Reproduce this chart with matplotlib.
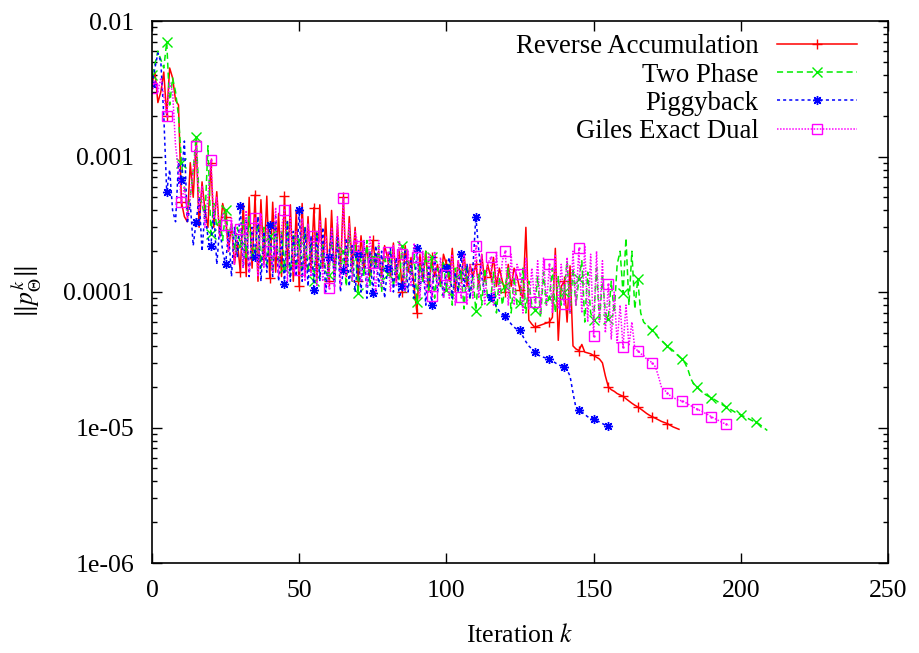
import numpy as np
import matplotlib
matplotlib.use("Agg")
import matplotlib.pyplot as plt
from matplotlib.ticker import LogLocator, FixedLocator, NullFormatter

# adjoint residual norms per iteration, in units of 1e-4
reverse_acc = [
    35, 42, 25, 30, 42, 20, 45, 38, 26, 24,
    4.6, 3.6, 3.3, 9, 5, 13, 3, 6.5, 4, 3,
    9, 3, 5.5, 2.6, 4.5, 3.6, 2.0, 3.2, 1.6, 2.4,
    1.4, 4.5, 1.3, 5.0, 1.5, 5.2, 1.2, 4.8, 1.6, 5.1,
    1.27, 4.6, 1.4, 3.8, 1.3, 5.1, 1.5, 4.4, 1.2, 4.0,
    1.1, 4.5, 1.3, 3.6, 1.4, 4.2, 1.2, 4.4, 1.5, 3.5,
    1.2, 4.0, 1.3, 3.2, 1.4, 5.0, 1.3, 3.6, 1.5, 3.0,
    1.2, 2.6, 1.5, 2.2, 1.3, 2.4, 1.6, 2.0, 1.3, 2.2,
    1.8, 1.3, 2.3, 1.2, 2.0, 1.0, 2.2, 1.4, 1.8, 1.1,
    0.7, 1.9, 1.2, 2.0, 1.0, 1.8, 1.3, 1.6, 1.1, 1.9,
    1.6, 1.2, 2.1, 1.0, 1.7, 1.26, 1.9, 1.1, 1.6, 1.3,
    1.6, 1.1, 1.9, 1.2, 1.6, 1.3, 1.8, 1.1, 1.5, 1.2,
    1.0, 1.6, 1.1, 1.5, 1.3, 1.03, 0.9, 3.0, 0.62, 0.58,
    0.55, 0.56, 0.57, 0.58, 0.59, 0.6, 0.65, 2.1, 0.44, 1.1,
    1.2, 0.6, 1.56, 0.40, 0.38, 0.37, 0.41, 0.36, 0.355, 0.35,
    0.34, 0.33, 0.32, 0.30, 0.24, 0.20, 0.19, 0.185, 0.178, 0.174,
    0.17, 0.163, 0.157, 0.151, 0.146, 0.142, 0.137, 0.132, 0.127, 0.123,
    0.12, 0.117, 0.114, 0.111, 0.109, 0.107, 0.104, 0.101, 0.099, 0.097,
]

two_phase = [
    40, 48, 60, 52, 45, 70, 24, 38, 30, 20,
    9, 6, 4, 5, 8, 14, 5, 4.5, 3.5, 12,
    2.7, 4.5, 3, 3.5, 2.4, 4.0, 2.6, 3.2, 2.0, 3.0,
    2.2, 3.4, 1.8, 3.6, 1.7, 2.0, 3.5, 1.5, 3.0, 1.6,
    2.6, 1.4, 3.2, 1.6, 2.8, 1.5, 3.4, 1.3, 2.6, 1.5,
    2.4, 1.3, 3.0, 1.4, 2.5, 1.2, 2.8, 1.3, 2.2, 1.4,
    1.34, 2.6, 1.2, 2.4, 1.4, 2.0, 1.1, 2.8, 1.2, 2.2,
    0.98, 2.0, 1.3, 2.4, 1.1, 1.8, 1.5, 2.2, 1.0, 1.9,
    1.35, 2.0, 1.1, 1.6, 1.2, 2.2, 1.0, 1.7, 1.3, 1.9,
    0.84, 1.6, 1.2, 2.0, 1.0, 1.8, 0.9, 1.5, 1.1, 1.7,
    1.03, 1.6, 0.8, 1.5, 1.0, 1.4, 0.75, 1.6, 0.9, 1.3,
    0.73, 1.4, 0.8, 1.5, 0.9, 0.87, 1.4, 0.7, 1.3, 0.8,
    1.1, 1.5, 0.7, 1.3, 0.8, 0.83, 1.5, 0.7, 1.2, 0.8,
    0.74, 1.3, 0.65, 1.4, 0.8, 0.91, 1.5, 0.7, 1.3, 0.8,
    1.0, 1.7, 0.7, 1.5, 0.8, 1.25, 1.7, 0.6, 1.4, 0.7,
    0.62, 1.5, 0.6, 1.3, 0.7, 0.63, 1.2, 0.7, 1.6, 2.0,
    0.98, 2.5, 0.8, 2.0, 0.75, 1.25, 0.7, 0.6, 0.57, 0.54,
    0.52, 0.49, 0.46, 0.44, 0.42, 0.40, 0.385, 0.37, 0.35, 0.335,
    0.32, 0.30, 0.27, 0.23, 0.21, 0.20, 0.19, 0.182, 0.175, 0.17,
    0.166, 0.161, 0.156, 0.151, 0.146, 0.142, 0.138, 0.134, 0.13, 0.127,
    0.124, 0.121, 0.118, 0.115, 0.112, 0.11, 0.107, 0.103, 0.099, 0.095,
]

piggyback = [
    34, 45, 58, 50, 20, 5.5, 8, 4, 3.3, 9,
    6.7, 13, 3.2, 4.5, 2.2, 3.3, 5, 2.0, 4, 2.5,
    2.2, 4, 1.6, 3, 2.0, 1.6, 2.8, 1.3, 3.0, 1.8,
    4.3, 1.5, 3.5, 1.3, 3.0, 1.8, 3.6, 1.2, 2.8, 1.4,
    3.1, 1.3, 3.6, 1.2, 2.6, 1.15, 3.3, 1.2, 2.8, 1.3,
    4.0, 1.2, 3.0, 1.1, 2.6, 1.03, 2.7, 1.2, 3.0, 1.0,
    1.8, 2.8, 1.1, 2.6, 1.0, 1.45, 2.5, 1.1, 2.2, 1.0,
    1.9, 1.0, 2.4, 0.9, 2.0, 0.98, 2.2, 1.1, 2.0, 0.9,
    1.5, 2.1, 1.0, 1.8, 0.9, 1.1, 2.0, 1.0, 1.7, 0.9,
    2.1, 1.0, 1.7, 0.8, 1.6, 0.8, 1.9, 1.0, 1.5, 0.9,
    1.5, 1.8, 0.9, 1.4, 1.0, 1.9, 1.1, 1.6, 0.9, 1.5,
    3.6, 2.0, 1.3, 1.0, 0.95, 0.92, 0.85, 0.78, 0.72, 0.68,
    0.66, 0.62, 0.58, 0.55, 0.53, 0.52, 0.47, 0.43, 0.40, 0.38,
    0.36, 0.345, 0.335, 0.33, 0.325, 0.32, 0.31, 0.30, 0.29, 0.285,
    0.28, 0.265, 0.24, 0.18, 0.14, 0.135, 0.13, 0.125, 0.12, 0.117,
    0.115, 0.112, 0.11, 0.107, 0.104, 0.102, 0.10,
]

giles = [
    32, 36, 30, 38, 28, 20, 35, 30, 12, 8,
    4.6, 6, 3.5, 5, 8, 12, 4, 6, 3, 5,
    9.4, 3.5, 5, 2.5, 3.8, 3.1, 2.0, 3.5, 1.6, 2.6,
    2.9, 1.5, 4.0, 1.4, 2.6, 3.5, 1.3, 3.8, 1.5, 3.0,
    2.0, 1.4, 4.2, 1.3, 3.0, 4.0, 1.2, 3.6, 1.4, 2.8,
    1.45, 3.5, 1.2, 3.2, 1.3, 2.6, 1.1, 3.4, 1.2, 2.6,
    1.07, 3.0, 1.2, 3.6, 1.1, 4.9, 1.3, 3.2, 1.2, 2.8,
    2.2, 1.2, 2.4, 1.1, 2.6, 1.65, 1.0, 2.4, 1.1, 2.0,
    1.98, 1.0, 2.2, 1.1, 2.4, 1.9, 1.0, 2.0, 1.1, 2.3,
    1.8, 0.9, 2.0, 1.0, 1.9, 0.93, 2.0, 1.0, 1.8, 0.9,
    1.34, 0.9, 1.9, 0.8, 1.7, 0.92, 1.9, 0.8, 1.6, 0.9,
    2.2, 0.9, 1.9, 0.8, 1.6, 1.8, 0.8, 2.0, 0.9, 1.7,
    2.0, 0.8, 1.9, 0.8, 1.6, 1.36, 0.7, 1.8, 0.75, 1.5,
    0.85, 1.7, 0.7, 1.8, 0.8, 1.6, 0.7, 1.9, 0.75, 1.6,
    0.81, 1.8, 0.7, 2.0, 0.8, 2.1, 0.7, 2.2, 0.6, 1.9,
    0.47, 2.0, 0.6, 1.7, 0.5, 1.15, 0.45, 1.0, 0.42, 0.8,
    0.39, 0.8, 0.4, 0.6, 0.38, 0.37, 0.35, 0.34, 0.32, 0.31,
    0.30, 0.28, 0.24, 0.2, 0.19, 0.18, 0.172, 0.167, 0.162, 0.158,
    0.158, 0.154, 0.149, 0.145, 0.141, 0.137, 0.134, 0.131, 0.127, 0.124,
    0.12, 0.117, 0.114, 0.111, 0.108, 0.106, 0.104,
]

plt.rcParams["font.family"] = ["Liberation Serif", "DejaVu Serif"]
plt.rcParams["mathtext.fontset"] = "stix"

fig = plt.figure(figsize=(9.2, 6.53), dpi=100)
ax = fig.add_axes([152 / 920, 90 / 653, 736 / 920, 542 / 653])

series = [
    ("Reverse Accumulation", reverse_acc, "#ff0000", "-", "+"),
    ("Two Phase", two_phase, "#00ee00", (0, (4, 2.5)), "x"),
    ("Piggyback", piggyback, "#0000ff", (0, (2, 2)), (8, 2, 0)),
    ("Giles Exact Dual", giles, "#ff00ff", (0, (1, 1)), "s"),
]

for name, vals, col, ls, mk in series:
    y = np.array(vals) * 1e-4
    k = np.arange(len(y))
    ax.plot(k, y, color=col, linestyle=ls, lw=1.1, marker=mk, markevery=5,
            ms=6.5, mew=1.0, mfc="none", mec=col, label=name)
    if mk == "s":
        ax.plot(k, y, linestyle="none", marker=".", ms=1.5, color=col, markevery=5)

ax.set_yscale("log")
ax.set_xlim(0, 250)
ax.set_ylim(1e-6, 1e-2)
ax.xaxis.set_major_locator(FixedLocator([0, 50, 100, 150, 200, 250]))
ax.yaxis.set_major_locator(FixedLocator([1e-6, 1e-5, 1e-4, 1e-3, 1e-2]))
ax.set_yticklabels(["1e-06", "1e-05", "0.0001", "0.001", "0.01"])
ax.yaxis.set_minor_locator(LogLocator(base=10, subs=np.arange(2, 10)))
ax.yaxis.set_minor_formatter(NullFormatter())

ax.tick_params(which="both", direction="in", top=True, right=True, width=1.0)
ax.tick_params(which="major", length=7)
ax.tick_params(which="minor", length=3.5)
ax.tick_params(axis="y", labelsize=18.5, pad=13)
ax.tick_params(axis="x", labelsize=18.5, pad=12)
for sp in ax.spines.values():
    sp.set_linewidth(1.2)

ax.set_xlabel("Iteration $k$", fontsize=18.5, labelpad=16)
ax.set_ylabel(r"$\Vert p^{k}_{\Theta}\Vert$", fontsize=18.5, labelpad=14)

ax.legend(loc="upper right", bbox_to_anchor=(0.976, 1.0), frameon=False,
          markerfirst=False, fontsize=19.3, handlelength=3.0, handletextpad=0.67,
          labelspacing=0.12, borderpad=0, numpoints=1)

fig.savefig("out.png", dpi=100)
